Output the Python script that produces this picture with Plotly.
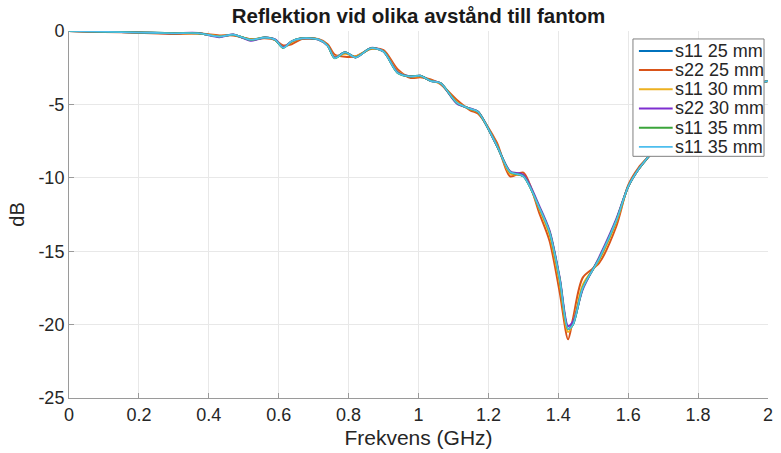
import plotly.graph_objects as go

freq = [0, 0.1, 0.2, 0.3, 0.37, 0.43, 0.47, 0.52, 0.56, 0.59, 0.613, 0.637, 0.666, 0.713, 0.74,
        0.76, 0.79, 0.82, 0.864, 0.9, 0.94, 0.978, 1.005, 1.035, 1.063, 1.11, 1.148, 1.17, 1.224,
        1.262, 1.30, 1.347, 1.375, 1.404, 1.428, 1.442, 1.47, 1.517, 1.566, 1.60, 1.63, 1.66,
        1.7, 1.75, 1.8, 1.85, 1.9, 1.95, 2.0]

s11_25 = [0, -0.05, -0.1, -0.15, -0.15, -0.37, -0.25, -0.6, -0.45, -0.6, -1.12, -0.72, -0.5, -0.57, -1.0,
          -1.82, -1.45, -1.78, -1.17, -1.4, -2.82, -3.1, -3.05, -3.4, -3.55, -4.9, -5.3, -5.5, -7.8,
          -9.6, -9.9, -12.1, -13.7, -16.9, -20.3, -20.0, -17.5, -15.5, -12.9, -10.6, -9.4, -8.5,
          -7.3, -6.2, -5.3, -4.6, -4.0, -3.7, -3.4]
s22_25 = [0, -0.06, -0.12, -0.2, -0.17, -0.3, -0.3, -0.55, -0.5, -0.62, -0.98, -0.9, -0.55, -0.55, -0.9,
          -1.6, -1.75, -1.72, -1.22, -1.3, -2.6, -3.2, -3.15, -3.3, -3.62, -4.7, -5.4, -5.62, -7.6,
          -9.9, -9.65, -12.5, -14.3, -17.8, -21.0, -19.6, -16.8, -15.8, -13.3, -10.5, -9.3, -8.5,
          -7.3, -6.2, -5.3, -4.6, -4.0, -3.7, -3.4]
s11_30 = [0, -0.05, -0.1, -0.16, -0.16, -0.36, -0.26, -0.58, -0.46, -0.6, -1.1, -0.75, -0.5, -0.56, -0.98,
          -1.75, -1.55, -1.75, -1.2, -1.38, -2.75, -3.12, -3.08, -3.38, -3.58, -4.85, -5.32, -5.52, -7.75,
          -9.7, -9.85, -12.2, -13.9, -17.2, -20.5, -19.9, -17.3, -15.6, -13.0, -10.6, -9.4, -8.5,
          -7.3, -6.2, -5.3, -4.6, -4.0, -3.7, -3.4]
s22_30 = [0, -0.05, -0.1, -0.15, -0.14, -0.42, -0.24, -0.66, -0.44, -0.58, -1.1, -0.7, -0.5, -0.58, -1.0,
          -1.8, -1.45, -1.8, -1.15, -1.4, -2.8, -3.1, -3.05, -3.4, -3.55, -4.95, -5.28, -5.48, -7.8,
          -9.55, -9.8, -12.0, -13.6, -16.8, -20.1, -19.8, -17.6, -15.4, -12.8, -10.6, -9.4, -8.5,
          -7.3, -6.2, -5.3, -4.6, -4.0, -3.7, -3.4]
s11_35a = [0, -0.05, -0.1, -0.15, -0.15, -0.38, -0.25, -0.6, -0.45, -0.6, -1.15, -0.7, -0.5, -0.57, -1.0,
           -1.85, -1.45, -1.8, -1.17, -1.4, -2.85, -3.1, -3.05, -3.4, -3.55, -4.9, -5.3, -5.5, -7.8,
           -9.6, -9.9, -12.1, -13.7, -16.9, -20.3, -20.0, -17.5, -15.5, -12.9, -10.6, -9.4, -8.5,
           -7.3, -6.2, -5.3, -4.6, -4.0, -3.7, -3.4]
s11_35b = [0, -0.05, -0.1, -0.15, -0.15, -0.38, -0.25, -0.6, -0.45, -0.6, -1.15, -0.7, -0.5, -0.57, -1.0,
           -1.85, -1.45, -1.8, -1.17, -1.4, -2.85, -3.1, -3.05, -3.4, -3.55, -4.9, -5.3, -5.5, -7.8,
           -9.6, -9.9, -12.1, -13.7, -16.9, -20.3, -20.0, -17.5, -15.5, -12.9, -10.6, -9.4, -8.5,
           -7.3, -6.2, -5.3, -4.6, -4.0, -3.7, -3.4]

names = ["s11 25 mm", "s22 25 mm", "s11 30 mm", "s22 30 mm", "s11 35 mm", "s11 35 mm"]
series = [s11_25, s22_25, s11_30, s22_30, s11_35a, s11_35b]
colors = ["#0072BD", "#D95319", "#EDB120", "#7E2FD0", "#3BA53B", "#4DBEEE"]
widths = [2, 2, 2, 2, 2, 1.6]

x_ticks = [0, 0.2, 0.4, 0.6, 0.8, 1, 1.2, 1.4, 1.6, 1.8, 2]
x_labels = ["0", "0.2", "0.4", "0.6", "0.8", "1", "1.2", "1.4", "1.6", "1.8", "2"]
y_ticks = [0, -5, -10, -15, -20, -25]
y_labels = ["0", "-5", "-10", "-15", "-20", "-25"]

W, H = 781, 453
L, R, T, B = 69, 8, 31, 53
PW, PH = W - L - R, H - T - B

def px_x(px):
    return (px - L) / PW

def px_y(py):
    return 1 - (py - T) / PH

fig = go.Figure()
for n, s, c, w in zip(names, series, colors, widths):
    fig.add_trace(go.Scatter(x=freq, y=s, name=n, mode="lines", showlegend=False,
                             line=dict(color=c, width=w, shape="spline", smoothing=0.8)))

# manual legend (box, line samples, labels)
shapes = [dict(type="rect", xref="paper", yref="paper",
               x0=px_x(637), x1=px_x(769), y0=px_y(157), y1=px_y(39),
               fillcolor="white", line=dict(color="#808080", width=1), layer="above")]
annotations = []
for i, (n, c, w) in enumerate(zip(names, colors, widths)):
    yy = 51 + 19.3 * i
    shapes.append(dict(type="line", xref="paper", yref="paper",
                       x0=px_x(643), x1=px_x(677), y0=px_y(yy), y1=px_y(yy),
                       line=dict(color=c, width=w), layer="above"))
    annotations.append(dict(text=n, xref="paper", yref="paper", x=px_x(677), y=px_y(yy),
                            xanchor="left", yanchor="middle", showarrow=False,
                            font=dict(size=18, color="#262626")))

fig.update_layout(
    width=W, height=H,
    margin=dict(l=L, r=R, t=T, b=B),
    paper_bgcolor="white", plot_bgcolor="white",
    font=dict(family="Liberation Sans, Arial, sans-serif", color="#262626", size=18),
    title=dict(text="<b>Reflektion vid olika avstånd till fantom</b>", xref="paper", x=0.5,
               xanchor="center", yref="container", y=1 - 16 / H, yanchor="middle",
               font=dict(size=20.5, color="#1a1a1a")),
    xaxis=dict(range=[0, 2], tickvals=x_ticks, ticktext=x_labels,
               showgrid=True, gridcolor="#e8e8e8", gridwidth=1, zeroline=False,
               showline=True, linecolor="#9a9a9a", linewidth=1, ticks="inside", ticklen=5,
               tickcolor="#9a9a9a", tickfont=dict(size=18),
               title=dict(text="Frekvens (GHz)", standoff=6, font=dict(size=21))),
    yaxis=dict(range=[-25, 0], tickvals=y_ticks, ticktext=y_labels,
               showgrid=True, gridcolor="#e8e8e8", gridwidth=1, zeroline=False,
               showline=True, linecolor="#9a9a9a", linewidth=1, ticks="inside", ticklen=5,
               tickcolor="#9a9a9a", tickfont=dict(size=18),
               title=dict(text="dB", standoff=8, font=dict(size=20))),
    shapes=shapes,
    annotations=annotations,
    showlegend=False,
)

fig.write_html("out.html")
